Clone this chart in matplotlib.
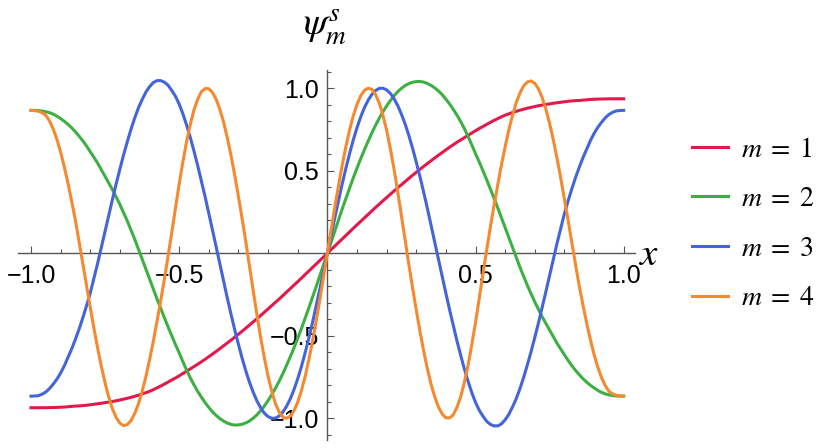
import matplotlib
matplotlib.use('Agg')
import matplotlib.pyplot as plt
from matplotlib.ticker import MultipleLocator

# sample positions along x (values every 0.0125)
x = [-1.0, -0.9875, -0.975, -0.9625, -0.95, -0.9375, -0.925, -0.9125, -0.9, -0.8875,
     -0.875, -0.8625, -0.85, -0.8375, -0.825, -0.8125, -0.8, -0.7875, -0.775, -0.7625,
     -0.75, -0.7375, -0.725, -0.7125, -0.7, -0.6875, -0.675, -0.6625, -0.65, -0.6375,
     -0.625, -0.6125, -0.6, -0.5875, -0.575, -0.5625, -0.55, -0.5375, -0.525, -0.5125,
     -0.5, -0.4875, -0.475, -0.4625, -0.45, -0.4375, -0.425, -0.4125, -0.4, -0.3875,
     -0.375, -0.3625, -0.35, -0.3375, -0.325, -0.3125, -0.3, -0.2875, -0.275, -0.2625,
     -0.25, -0.2375, -0.225, -0.2125, -0.2, -0.1875, -0.175, -0.1625, -0.15, -0.1375,
     -0.125, -0.1125, -0.1, -0.0875, -0.075, -0.0625, -0.05, -0.0375, -0.025, -0.0125,
     0.0,
     0.0125, 0.025, 0.0375, 0.05, 0.0625, 0.075, 0.0875, 0.1, 0.1125, 0.125,
     0.1375, 0.15, 0.1625, 0.175, 0.1875, 0.2, 0.2125, 0.225, 0.2375, 0.25,
     0.2625, 0.275, 0.2875, 0.3, 0.3125, 0.325, 0.3375, 0.35, 0.3625, 0.375,
     0.3875, 0.4, 0.4125, 0.425, 0.4375, 0.45, 0.4625, 0.475, 0.4875, 0.5,
     0.5125, 0.525, 0.5375, 0.55, 0.5625, 0.575, 0.5875, 0.6, 0.6125, 0.625,
     0.6375, 0.65, 0.6625, 0.675, 0.6875, 0.7, 0.7125, 0.725, 0.7375, 0.75,
     0.7625, 0.775, 0.7875, 0.8, 0.8125, 0.825, 0.8375, 0.85, 0.8625, 0.875,
     0.8875, 0.9, 0.9125, 0.925, 0.9375, 0.95, 0.9625, 0.975, 0.9875, 1.0]

psi_m1 = [-0.935, -0.935, -0.935, -0.935, -0.935, -0.934, -0.934, -0.933, -0.932, -0.931,
          -0.929, -0.927, -0.925, -0.924, -0.922, -0.920, -0.917, -0.914, -0.911, -0.908,
          -0.904, -0.901, -0.897, -0.893, -0.888, -0.883, -0.878, -0.872, -0.866, -0.859,
          -0.852, -0.844, -0.836, -0.826, -0.815, -0.804, -0.792, -0.780, -0.767, -0.755,
          -0.742, -0.728, -0.714, -0.700, -0.686, -0.672, -0.657, -0.642, -0.626, -0.610,
          -0.594, -0.577, -0.560, -0.543, -0.526, -0.508, -0.490, -0.472, -0.453, -0.434,
          -0.415, -0.396, -0.377, -0.357, -0.337, -0.317, -0.297, -0.277, -0.256, -0.235,
          -0.214, -0.193, -0.172, -0.151, -0.129, -0.108, -0.086, -0.065, -0.043, -0.022,
          0.0,
          0.022, 0.043, 0.065, 0.086, 0.108, 0.129, 0.151, 0.172, 0.193, 0.214,
          0.235, 0.256, 0.277, 0.297, 0.317, 0.337, 0.357, 0.377, 0.396, 0.415,
          0.434, 0.453, 0.472, 0.490, 0.508, 0.526, 0.543, 0.560, 0.577, 0.594,
          0.610, 0.626, 0.642, 0.657, 0.672, 0.686, 0.700, 0.714, 0.728, 0.742,
          0.755, 0.767, 0.780, 0.792, 0.804, 0.815, 0.826, 0.836, 0.844, 0.852,
          0.859, 0.866, 0.872, 0.878, 0.883, 0.888, 0.893, 0.897, 0.901, 0.904,
          0.908, 0.911, 0.914, 0.917, 0.920, 0.922, 0.924, 0.925, 0.927, 0.929,
          0.931, 0.932, 0.933, 0.934, 0.934, 0.935, 0.935, 0.935, 0.935, 0.935]

psi_m2 = [0.865, 0.865, 0.864, 0.861, 0.857, 0.851, 0.842, 0.830, 0.815, 0.799,
          0.780, 0.759, 0.735, 0.709, 0.680, 0.649, 0.615, 0.580, 0.545, 0.505,
          0.465, 0.425, 0.385, 0.340, 0.295, 0.245, 0.195, 0.140, 0.085, 0.025,
          -0.035, -0.095, -0.155, -0.215, -0.275, -0.333, -0.390, -0.446, -0.500, -0.553,
          -0.603, -0.656, -0.707, -0.754, -0.797, -0.836, -0.871, -0.904, -0.933, -0.960,
          -0.982, -1.001, -1.016, -1.028, -1.036, -1.040, -1.039, -1.035, -1.027, -1.015,
          -0.998, -0.978, -0.953, -0.924, -0.892, -0.856, -0.817, -0.774, -0.728, -0.678,
          -0.626, -0.572, -0.515, -0.456, -0.394, -0.331, -0.267, -0.201, -0.134, -0.067,
          0.0,
          0.067, 0.134, 0.201, 0.267, 0.331, 0.394, 0.456, 0.515, 0.572, 0.626,
          0.678, 0.728, 0.774, 0.817, 0.856, 0.892, 0.924, 0.953, 0.978, 0.998,
          1.015, 1.027, 1.035, 1.039, 1.040, 1.036, 1.028, 1.016, 1.001, 0.982,
          0.960, 0.933, 0.904, 0.871, 0.836, 0.797, 0.754, 0.707, 0.656, 0.603,
          0.553, 0.500, 0.446, 0.390, 0.333, 0.275, 0.215, 0.155, 0.095, 0.035,
          -0.025, -0.085, -0.140, -0.195, -0.245, -0.295, -0.340, -0.385, -0.425, -0.465,
          -0.505, -0.545, -0.580, -0.615, -0.649, -0.680, -0.709, -0.735, -0.759, -0.780,
          -0.799, -0.815, -0.830, -0.842, -0.851, -0.857, -0.861, -0.864, -0.865, -0.865]

psi_m3 = [-0.865, -0.864, -0.862, -0.853, -0.840, -0.819, -0.792, -0.762, -0.725, -0.681,
          -0.630, -0.578, -0.520, -0.458, -0.390, -0.317, -0.240, -0.151, -0.060, 0.037,
          0.134, 0.232, 0.327, 0.421, 0.510, 0.596, 0.675, 0.751, 0.819, 0.880,
          0.930, 0.975, 1.008, 1.033, 1.045, 1.045, 1.036, 1.017, 0.986, 0.950,
          0.903, 0.844, 0.776, 0.701, 0.618, 0.531, 0.437, 0.342, 0.242, 0.140,
          0.037, -0.067, -0.170, -0.272, -0.370, -0.464, -0.552, -0.636, -0.713, -0.782,
          -0.842, -0.894, -0.936, -0.968, -0.989, -0.999, -0.998, -0.985, -0.961, -0.926,
          -0.881, -0.825, -0.760, -0.686, -0.603, -0.514, -0.419, -0.318, -0.214, -0.108,
          0.0,
          0.108, 0.214, 0.318, 0.419, 0.514, 0.603, 0.686, 0.760, 0.825, 0.881,
          0.926, 0.961, 0.985, 0.998, 0.999, 0.989, 0.968, 0.936, 0.894, 0.842,
          0.782, 0.713, 0.636, 0.552, 0.464, 0.370, 0.272, 0.170, 0.067, -0.037,
          -0.140, -0.242, -0.342, -0.437, -0.531, -0.618, -0.701, -0.776, -0.844, -0.903,
          -0.950, -0.986, -1.017, -1.036, -1.045, -1.045, -1.033, -1.008, -0.975, -0.930,
          -0.880, -0.819, -0.751, -0.675, -0.596, -0.510, -0.421, -0.327, -0.232, -0.134,
          -0.037, 0.060, 0.151, 0.240, 0.317, 0.390, 0.458, 0.520, 0.578, 0.630,
          0.681, 0.725, 0.762, 0.792, 0.819, 0.840, 0.853, 0.862, 0.864, 0.865]

psi_m4 = [0.865, 0.863, 0.860, 0.851, 0.835, 0.801, 0.752, 0.689, 0.612, 0.522,
          0.422, 0.313, 0.198, 0.068, -0.064, -0.198, -0.328, -0.456, -0.575, -0.687,
          -0.785, -0.872, -0.942, -0.995, -1.029, -1.043, -1.037, -1.013, -0.970, -0.912,
          -0.836, -0.748, -0.645, -0.535, -0.414, -0.289, -0.158, -0.017, 0.124, 0.274,
          0.419, 0.553, 0.676, 0.780, 0.868, 0.932, 0.978, 0.997, 0.996, 0.973,
          0.931, 0.870, 0.793, 0.699, 0.591, 0.472, 0.343, 0.208, 0.068, -0.081,
          -0.229, -0.373, -0.510, -0.634, -0.745, -0.836, -0.911, -0.961, -0.993, -0.999,
          -0.986, -0.953, -0.901, -0.832, -0.746, -0.645, -0.532, -0.408, -0.277, -0.140,
          0.0,
          0.140, 0.277, 0.408, 0.532, 0.645, 0.746, 0.832, 0.901, 0.953, 0.986,
          0.999, 0.993, 0.961, 0.911, 0.836, 0.745, 0.634, 0.510, 0.373, 0.229,
          0.081, -0.068, -0.208, -0.343, -0.472, -0.591, -0.699, -0.793, -0.870, -0.931,
          -0.973, -0.996, -0.997, -0.978, -0.932, -0.868, -0.780, -0.676, -0.553, -0.419,
          -0.274, -0.124, 0.017, 0.158, 0.289, 0.414, 0.535, 0.645, 0.748, 0.836,
          0.912, 0.970, 1.013, 1.037, 1.043, 1.029, 0.995, 0.942, 0.872, 0.785,
          0.687, 0.575, 0.456, 0.328, 0.198, 0.064, -0.068, -0.198, -0.313, -0.422,
          -0.522, -0.612, -0.689, -0.752, -0.801, -0.835, -0.851, -0.860, -0.863, -0.865]

labels = [r'$m\;=\;1$', r'$m\;=\;2$', r'$m\;=\;3$', r'$m\;=\;4$']
colors = ['#E3194B', '#3DB043', '#4464DA', '#F5892F']

x_ticks = [-1.0, -0.5, 0.5, 1.0]
x_tick_labels = ['\u22121.0', '\u22120.5', '0.5', '1.0']
y_ticks = [-1.0, -0.5, 0.5, 1.0]
y_tick_labels = ['\u22121.0', '\u22120.5', '0.5', '1.0']

plt.rcParams['mathtext.fontset'] = 'stix'
plt.rcParams['font.family'] = ['Liberation Sans', 'DejaVu Sans']

fig = plt.figure(figsize=(8.3, 4.48), dpi=100)
ax = fig.add_axes([0.022, 0.018, 0.743, 0.826])

for ys, c, lab in zip([psi_m1, psi_m2, psi_m3, psi_m4], colors, labels):
    ax.plot(x, ys, color=c, lw=2.2, label=lab, zorder=3)

ax.set_xlim(-1.043, 1.038)
ax.set_ylim(-1.13, 1.11)

# axes through the origin, Mathematica style
ax.spines['top'].set_visible(False)
ax.spines['right'].set_visible(False)
ax.spines['left'].set_position(('data', 0))
ax.spines['bottom'].set_position(('data', 0))
for side in ['left', 'bottom']:
    ax.spines[side].set_color('#555555')
    ax.spines[side].set_linewidth(1.0)

ax.set_xticks(x_ticks)
ax.set_xticklabels(x_tick_labels)
ax.set_yticks(y_ticks)
ax.set_yticklabels(y_tick_labels)
ax.xaxis.set_minor_locator(MultipleLocator(0.1))
ax.yaxis.set_minor_locator(MultipleLocator(0.1))
ax.tick_params(which='both', direction='in', color='#555555', width=0.8,
               labelsize=18)
ax.tick_params(which='major', length=5)
ax.tick_params(which='minor', length=3)
ax.tick_params(axis='x', pad=8)
ax.tick_params(axis='y', pad=6)

fig.text(0.781, 0.431, r'$x$', fontsize=28, ha='center', va='center')
fig.text(0.392, 0.94, r'$\psi^{s}_{m}$', fontsize=28, ha='center', va='center')

ax.legend(loc='center left', bbox_to_anchor=(0.834, 0.5),
          bbox_transform=fig.transFigure, frameon=False, fontsize=20,
          handlelength=1.3, handletextpad=0.45, labelspacing=0.85,
          borderpad=0, borderaxespad=0)

fig.savefig('out.png', dpi=100)
